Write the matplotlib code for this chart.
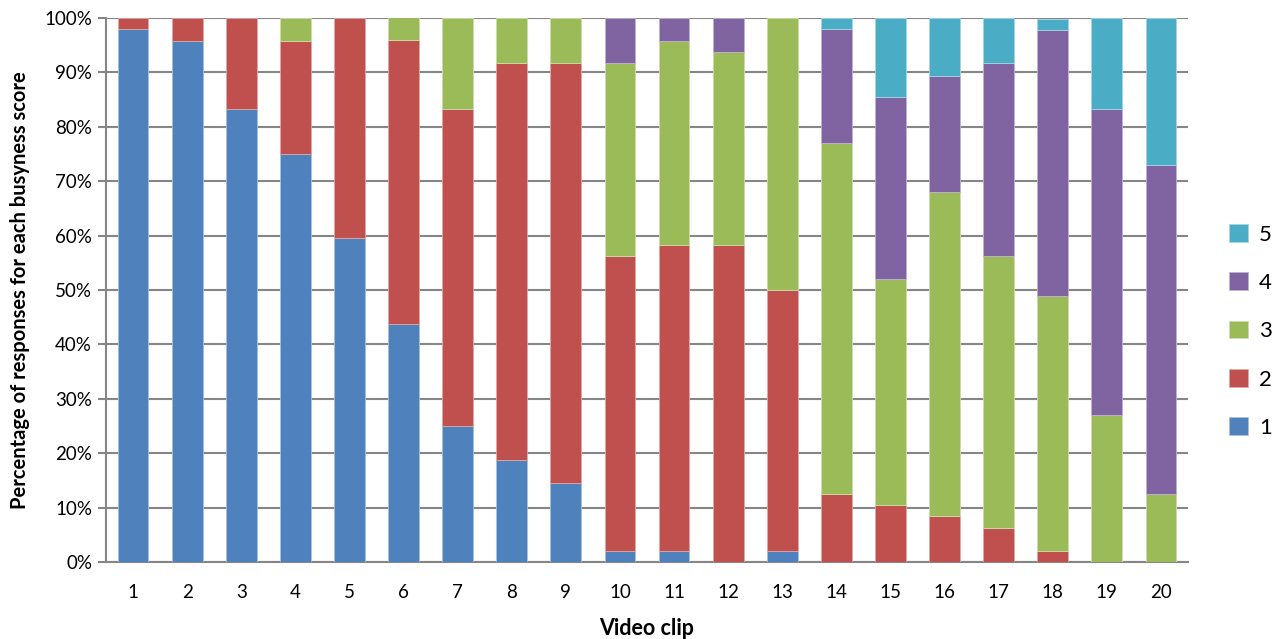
import matplotlib.pyplot as plt
import numpy as np

plt.rcParams['font.family'] = ['Lato', 'DejaVu Sans']

clips = [str(i) for i in range(1, 21)]
score_labels = ["1", "2", "3", "4", "5"]

# percentage of responses per busyness score, per clip
score1 = [97.9, 95.8, 83.3, 75.0, 59.6, 43.8, 25.0, 18.8, 14.6, 2.1,
          2.1, 0.0, 2.1, 0.0, 0.0, 0.0, 0.0, 0.0, 0.0, 0.0]
score2 = [2.1, 4.2, 16.7, 20.8, 40.4, 52.1, 58.3, 72.9, 77.1, 54.2,
          56.2, 58.3, 47.9, 12.5, 10.4, 8.5, 6.3, 2.1, 0.0, 0.0]
score3 = [0.0, 0.0, 0.0, 4.2, 0.0, 4.2, 16.7, 8.3, 8.3, 35.4,
          37.5, 35.4, 50.0, 64.6, 41.7, 59.6, 50.0, 46.8, 27.1, 12.5]
score4 = [0.0, 0.0, 0.0, 0.0, 0.0, 0.0, 0.0, 0.0, 0.0, 8.3,
          4.2, 6.3, 0.0, 20.8, 33.3, 21.3, 35.4, 48.9, 56.2, 60.4]
score5 = [0.0, 0.0, 0.0, 0.0, 0.0, 0.0, 0.0, 0.0, 0.0, 0.0,
          0.0, 0.0, 0.0, 2.1, 14.6, 10.6, 8.3, 2.1, 16.7, 27.1]

colors = ['#4F81BD', '#C0504D', '#9BBB59', '#8064A2', '#4BACC6']
edge_colors = ['#A7C0DE', '#E0A8A6', '#CDDDAC', '#BFB1D0', '#A5D5E2']

fig = plt.figure(figsize=(12.72, 6.39), dpi=100)
ax = fig.add_axes([106 / 1272, 77 / 639, 1082 / 1272, 544 / 639])

x = np.arange(1, 21)
bottom = np.zeros(20)
bars = []
for vals, c, ec, lab in zip([score1, score2, score3, score4, score5],
                            colors, edge_colors, score_labels):
    vals = np.array(vals)
    keep = vals > 0  # skip empty segments so no stray edge lines appear
    b = ax.bar(x[keep], vals[keep], width=0.57, bottom=bottom[keep],
               color=c, edgecolor=ec, linewidth=0.6, label=lab, zorder=3)
    bars.append(b)
    bottom += vals

ax.set_xlim(0.5, 20.5)
ax.set_ylim(0, 100)
ax.set_yticks(range(0, 101, 10))
ax.set_yticklabels([f"{v}%" for v in range(0, 101, 10)])
ax.set_xticks(x)
ax.set_xticklabels(clips)

ax.yaxis.grid(True, color='#868686', linewidth=1.5, zorder=0)
for side in ['top', 'right']:
    ax.spines[side].set_visible(False)
ax.spines['left'].set_color('#868686')
ax.spines['left'].set_linewidth(1.5)
ax.spines['bottom'].set_color('#868686')
ax.spines['bottom'].set_linewidth(1.5)
ax.tick_params(axis='y', length=6, width=1.5, color='#868686',
               labelsize=13.5, pad=4)
ax.tick_params(axis='x', length=0, labelsize=13.5, pad=16)

ax.set_xlabel('Video clip', fontsize=15.5, fontweight='bold', labelpad=12)
ax.set_ylabel('Percentage of responses for each busyness score',
              fontsize=14.5, fontweight='bold', labelpad=10)

handles = bars[::-1]
labels = score_labels[::-1]
fig.legend(handles, labels, loc='center left',
           bbox_to_anchor=(1220 / 1272, 308 / 639), frameon=False,
           fontsize=16, handlelength=0.85, handleheight=0.85,
           handletextpad=0.5, labelspacing=1.25, borderaxespad=0)

fig.savefig('out.png', dpi=100)
